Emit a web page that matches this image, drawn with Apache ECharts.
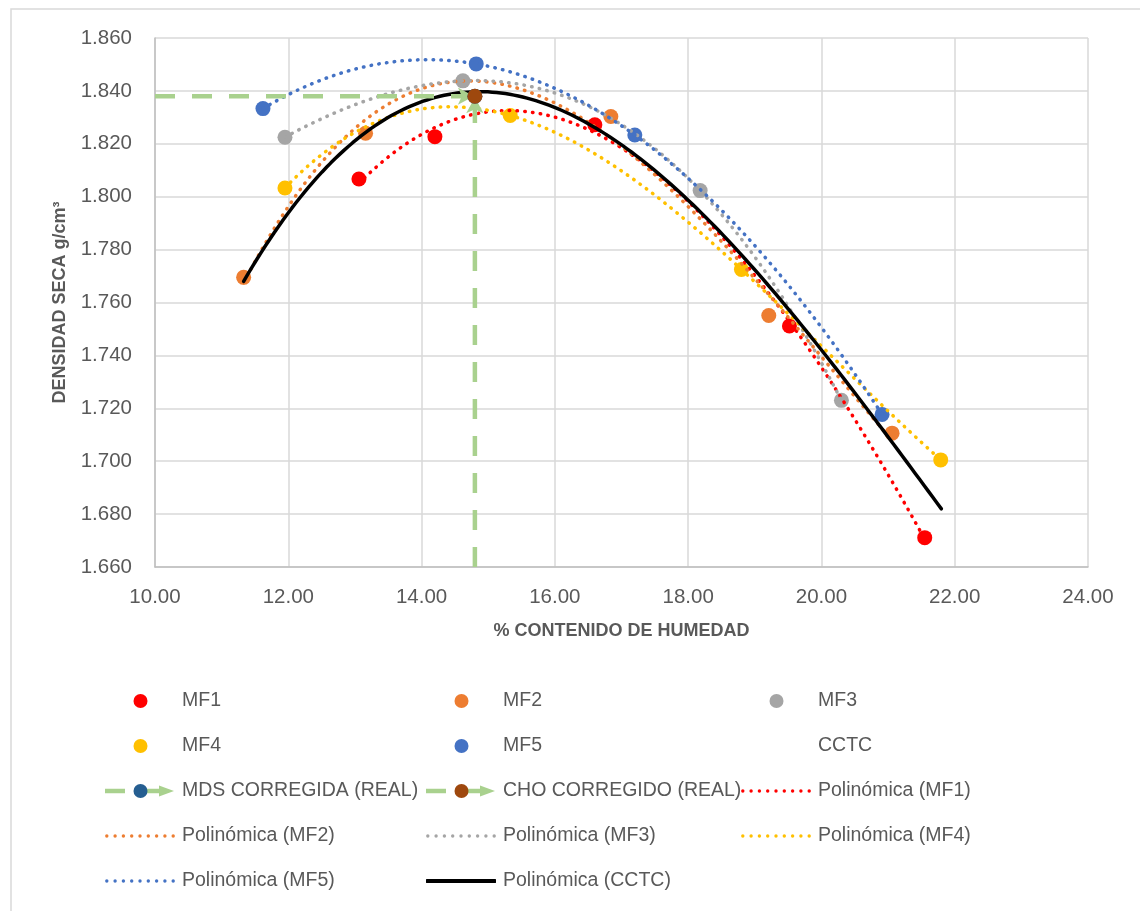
<!DOCTYPE html>
<html><head><meta charset="utf-8">
<script src="https://cdn.jsdelivr.net/npm/echarts@6/dist/echarts.min.js"></script>
<style>html,body{margin:0;padding:0;background:#fff}#c{width:1140px;height:911px}</style>
</head><body><div id="c"></div>
<script>
// ---- data ----
const mf1X = [13.06, 14.20, 16.60, 19.52, 21.55];
const mf1Y = [1.8067, 1.8227, 1.8272, 1.7511, 1.6711];
const mf2X = [11.33, 13.16, 16.84, 19.21, 21.06];
const mf2Y = [1.7695, 1.8240, 1.8303, 1.7551, 1.7106];
const mf3X = [11.95, 14.62, 18.18, 20.30];
const mf3Y = [1.8225, 1.8438, 1.8023, 1.7230];
const mf4X = [11.95, 15.33, 18.80, 21.79];
const mf4Y = [1.8033, 1.8307, 1.7725, 1.7005];
const mf5X = [11.62, 14.82, 17.20, 20.91];
const mf5Y = [1.8333, 1.8502, 1.8233, 1.7177];
const cctcX = [11.33, 12.00, 13.12, 14.00, 14.85, 16.00, 16.77, 17.42, 18.00, 18.92, 20.00, 21.80];
const cctcY = [1.7695, 1.7924, 1.8221, 1.8366, 1.8392, 1.8354, 1.8260, 1.8107, 1.7966, 1.7735, 1.7432, 1.6820];
const mdsX = [10.00, 14.80];
const mdsY = [1.838, 1.838];
const choX = [14.80, 14.80];
const choY = [1.660, 1.838];
const xTicks = {min: 10, max: 24, interval: 2};
const yTicks = {min: 1.66, max: 1.86, interval: 0.02};

// ---- helpers ----
function pairs(xs, ys) { return xs.map((x, i) => [x, ys[i]]); }
function polyfit(xs, ys, deg) {
  const n = deg + 1;
  const xm = xs.reduce((a, b) => a + b, 0) / xs.length;
  const A = Array.from({length: n}, () => new Array(n + 1).fill(0));
  for (let k = 0; k < xs.length; k++) {
    const u = xs[k] - xm, p = [];
    for (let i = 0; i < n; i++) p.push(Math.pow(u, i));
    for (let i = 0; i < n; i++) { for (let j = 0; j < n; j++) A[i][j] += p[i] * p[j]; A[i][n] += p[i] * ys[k]; }
  }
  for (let i = 0; i < n; i++) {
    let piv = i;
    for (let r = i + 1; r < n; r++) if (Math.abs(A[r][i]) > Math.abs(A[piv][i])) piv = r;
    const t = A[i]; A[i] = A[piv]; A[piv] = t;
    for (let r = 0; r < n; r++) { if (r === i) continue; const f = A[r][i] / A[i][i]; for (let c = i; c <= n; c++) A[r][c] -= f * A[i][c]; }
  }
  const coef = A.map((row, i) => row[n] / row[i]);
  return x => { const u = x - xm; let s = 0; for (let i = n - 1; i >= 0; i--) s = s * u + coef[i]; return s; };
}
function trend(xs, ys, deg) {
  const f = polyfit(xs, ys, deg);
  const lo = Math.min(...xs), hi = Math.max(...xs), N = 160, out = [];
  for (let i = 0; i <= N; i++) { const x = lo + (hi - lo) * i / N; out.push([x, f(x)]); }
  return out;
}
function svgIcon(body) {
  const svg = '<svg xmlns="http://www.w3.org/2000/svg" width="70" height="14" viewBox="0 0 70 14">' + body + '</svg>';
  return 'image://data:image/svg+xml;charset=utf-8,' + encodeURIComponent(svg);
}
function dotIcon(color) {
  let b = '';
  for (let i = 0; i < 9; i++) b += '<circle cx="' + (1.8 + i * 8.3).toFixed(2) + '" cy="7" r="1.7" fill="' + color + '"/>';
  return svgIcon(b);
}
function circleIcon(color) { return svgIcon('<circle cx="35.5" cy="7" r="7" fill="' + color + '"/>'); }
function blankIcon() { return svgIcon(''); }
function solidIcon(color) { return svgIcon('<line x1="1" y1="7" x2="69" y2="7" stroke="' + color + '" stroke-width="4" stroke-linecap="round"/>'); }
function arrowIcon(dot) {
  return svgIcon('<line x1="0" y1="7" x2="20" y2="7" stroke="#A9D18E" stroke-width="4.5"/>' +
    '<line x1="36" y1="7" x2="57" y2="7" stroke="#A9D18E" stroke-width="4.5"/>' +
    '<polygon points="54,1.5 69,7 54,12.5" fill="#A9D18E"/>' +
    '<circle cx="35.5" cy="7" r="7" fill="' + dot + '"/>');
}

const FONT = '"Liberation Sans", Arial, sans-serif';
const TXT = '#595959';
const C = {mf1: '#FF0000', mf2: '#ED7D31', mf3: '#A5A5A5', mf4: '#FFC000', mf5: '#4472C4', mds: '#255E91', cho: '#9E480E', green: '#A9D18E'};

function scatter(name, xs, ys, color) {
  return {name, type: 'scatter', data: pairs(xs, ys), symbol: 'circle', symbolSize: 15, itemStyle: {color, opacity: 1}, z: 2, silent: true};
}
function trendLine(name, xs, ys, color, solid) {
  return {name, type: 'line', data: trend(xs, ys, 3), showSymbol: false, symbol: 'none', smooth: false, silent: true,
    lineStyle: solid ? {color, width: 3.5, type: 'solid', cap: 'round'} : {color, width: 3.5, type: [0.5, 7.3], cap: 'round'},
    itemStyle: {color}, z: solid ? 4 : 3};
}

const series = [
  scatter('MF1', mf1X, mf1Y, C.mf1),
  scatter('MF2', mf2X, mf2Y, C.mf2),
  scatter('MF3', mf3X, mf3Y, C.mf3),
  scatter('MF4', mf4X, mf4Y, C.mf4),
  scatter('MF5', mf5X, mf5Y, C.mf5),
  {name: 'CCTC', type: 'scatter', data: pairs(cctcX, cctcY), symbolSize: 0, itemStyle: {color: '#000', opacity: 0}, silent: true},
  {name: 'MDS CORREGIDA (REAL)', type: 'line', data: pairs(mdsX, mdsY), symbol: 'none', showSymbol: false, silent: true,
    lineStyle: {color: C.green, width: 4.5, type: [20, 17]}, itemStyle: {color: C.green}, z: 5},
  {name: 'MDS CORREGIDA (REAL)', type: 'scatter', data: [[mdsX[1], mdsY[1]]], symbol: 'arrow', symbolRotate: -90,
    symbolSize: [13, 16], symbolOffset: [-1, 0], itemStyle: {color: C.green, opacity: 1}, z: 5, silent: true},
  {name: 'CHO CORREGIDO (REAL)', type: 'line', data: pairs(choX, choY), symbol: 'none', showSymbol: false, silent: true,
    lineStyle: {color: C.green, width: 4.5, type: [20, 17]}, itemStyle: {color: C.green}, z: 5},
  {name: 'CHO CORREGIDO (REAL)', type: 'scatter', data: [[choX[1], choY[1]]], symbol: 'arrow',
    symbolSize: [13, 16], symbolOffset: [0, 1], itemStyle: {color: C.green, opacity: 1}, z: 5, silent: true},
  {name: 'MDS CORREGIDA (REAL)', type: 'scatter', data: [[mdsX[1], mdsY[1]]], symbol: 'circle', symbolSize: 15, itemStyle: {color: C.mds, opacity: 1}, z: 6, silent: true},
  {name: 'CHO CORREGIDO (REAL)', type: 'scatter', data: [[choX[1], choY[1]]], symbol: 'circle', symbolSize: 15, itemStyle: {color: C.cho, opacity: 1}, z: 7, silent: true},
  trendLine('Polinómica (MF1)', mf1X, mf1Y, C.mf1),
  trendLine('Polinómica (MF2)', mf2X, mf2Y, C.mf2),
  trendLine('Polinómica (MF3)', mf3X, mf3Y, C.mf3),
  trendLine('Polinómica (MF4)', mf4X, mf4Y, C.mf4),
  trendLine('Polinómica (MF5)', mf5X, mf5Y, C.mf5),
  trendLine('Polinómica (CCTC)', cctcX, cctcY, '#000', true)
];

const legendItems = [
  {name: 'MF1', icon: circleIcon(C.mf1)}, {name: 'MF2', icon: circleIcon(C.mf2)}, {name: 'MF3', icon: circleIcon(C.mf3)},
  {name: 'MF4', icon: circleIcon(C.mf4)}, {name: 'MF5', icon: circleIcon(C.mf5)}, {name: 'CCTC', icon: blankIcon()},
  {name: 'MDS CORREGIDA (REAL)', icon: arrowIcon(C.mds)}, {name: 'CHO CORREGIDO (REAL)', icon: arrowIcon(C.cho)}, {name: 'Polinómica (MF1)', icon: dotIcon(C.mf1)},
  {name: 'Polinómica (MF2)', icon: dotIcon(C.mf2)}, {name: 'Polinómica (MF3)', icon: dotIcon(C.mf3)}, {name: 'Polinómica (MF4)', icon: dotIcon(C.mf4)},
  {name: 'Polinómica (MF5)', icon: dotIcon(C.mf5)}, {name: 'Polinómica (CCTC)', icon: solidIcon('#000')}
];
const colLeft = [105, 426, 741];
const rowTop = [701, 746, 791, 836, 881];
const legends = legendItems.map((item, i) => ({
  left: colLeft[i % 3], top: rowTop[Math.floor(i / 3)] - 12, padding: 0, orient: 'horizontal',
  itemWidth: 70, itemHeight: 14, itemGap: 0, selectedMode: false, symbolKeepAspect: false,
  textStyle: {fontFamily: FONT, fontSize: 19.5, color: TXT, lineHeight: 24, padding: [0, 0, 0, 2]},
  data: [Object.assign({itemStyle: {opacity: 1}}, item)]
}));

const chart = echarts.init(document.getElementById('c'), null, {renderer: 'canvas'});
chart.setOption({
  animation: false,
  backgroundColor: '#fff',
  graphic: [{type: 'rect', shape: {x: 11, y: 9, width: 1200, height: 1000}, style: {fill: 'none', stroke: '#D9D9D9', lineWidth: 1.5}, silent: true, z: -10}],
  grid: {left: 155, right: 52, top: 38, bottom: 344, containLabel: false},
  xAxis: {
    type: 'value', min: xTicks.min, max: xTicks.max, interval: xTicks.interval,
    name: '% CONTENIDO DE HUMEDAD', nameLocation: 'middle', nameGap: 55,
    nameTextStyle: {fontFamily: FONT, fontSize: 18, fontWeight: 'bold', color: TXT},
    axisLine: {show: true, lineStyle: {color: '#BFBFBF', width: 1.5}},
    axisTick: {show: false},
    axisLabel: {fontFamily: FONT, fontSize: 20.5, color: TXT, margin: 20, formatter: v => v.toFixed(2)},
    splitLine: {show: true, lineStyle: {color: '#D9D9D9', width: 1.5}}
  },
  yAxis: {
    type: 'value', min: yTicks.min, max: yTicks.max, interval: yTicks.interval,
    name: 'DENSIDAD SECA g/cm³', nameLocation: 'middle', nameGap: 86,
    nameTextStyle: {fontFamily: FONT, fontSize: 18, fontWeight: 'bold', color: TXT},
    axisLine: {show: true, lineStyle: {color: '#BFBFBF', width: 1.5}},
    axisTick: {show: false},
    axisLabel: {fontFamily: FONT, fontSize: 20.5, color: TXT, margin: 23, formatter: v => v.toFixed(3)},
    splitLine: {show: true, lineStyle: {color: '#D9D9D9', width: 1.5}}
  },
  legend: legends,
  series
});
</script>
</body></html>
